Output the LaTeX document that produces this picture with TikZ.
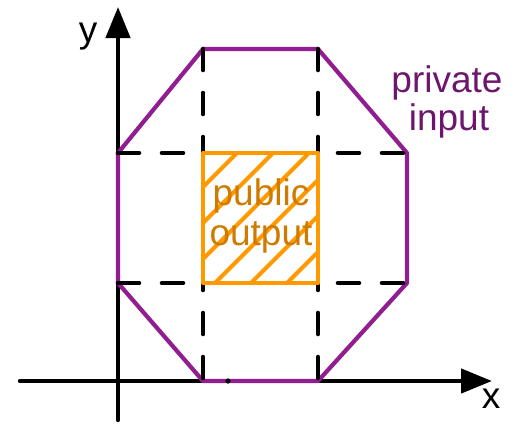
\documentclass[tikz,border=0pt]{standalone}
\usepackage{fontspec}
\setmainfont{Liberation Sans}
\usetikzlibrary{arrows.meta}
\definecolor{octpurple}{HTML}{911E91}
\definecolor{txtpurple}{HTML}{6C176B}
\definecolor{sqorange}{HTML}{FF9900}
\definecolor{txtorange}{HTML}{CF7B00}
\tikzset{
  axisline/.style={line width=4.4pt, line cap=round, -{Triangle[length=31pt,width=24pt]}},
  octline/.style={draw=octpurple, line width=4.2pt, line join=round},
  guideline/.style={line width=4.6pt, line cap=round, dash pattern=on 21pt off 23pt},
  hatchline/.style={draw=sqorange, line width=4.2pt},
  sqline/.style={draw=sqorange, line width=4.4pt, line join=round},
  lbl/.style={inner sep=0pt, anchor=base, font=\fontsize{37}{40}\selectfont},
}
\begin{document}
\begin{tikzpicture}[x=1pt,y=-1pt]
\useasboundingbox (0,0) rectangle (524,423);
% octagon vertices
\coordinate (o1) at (203,49);
\coordinate (o2) at (318,49);
\coordinate (o3) at (407,153);
\coordinate (o4) at (407,283);
\coordinate (o5) at (318,381);
\coordinate (o6) at (203,381);
\coordinate (o7) at (118,283);
\coordinate (o8) at (118,153);
% axes
\coordinate (xs) at (20,381);
\coordinate (xe) at (492,381);
\coordinate (ys) at (118,420);
\coordinate (ye) at (118,7);
\draw[axisline] (xs) -- (xe);
\draw[axisline] (ys) -- (ye);
% octagon
\draw[octline] (o1) -- (o2) -- (o3) -- (o4) -- (o5) -- (o6) -- (o7) -- (o8) -- cycle;
\fill (228,381) circle (2.6pt);
% dashed guides
\draw[guideline] (o1) -- (o6);
\draw[guideline] (o2) -- (o5);
\draw[guideline] (o8) -- (o3);
\draw[guideline] (o7) -- (o4);
% square
\coordinate (s1) at (203,153);
\coordinate (s2) at (318,283);
\fill[white] (s1) rectangle (s2);
\begin{scope}
  \clip (s1) rectangle (s2);
  \foreach \c in {390,426,462,498,534,570} {
    \draw[hatchline] (\c-300,300) -- (\c-130,130);
  }
\end{scope}
\node[lbl, text=txtorange] (pub) at (261,205) {public};
\node[lbl, text=txtorange] (out) at (261,245) {output};
\draw[sqline] (s1) rectangle (s2);
% labels
\node[lbl, text=txtpurple] (priv) at (447,92) {private};
\node[lbl, text=txtpurple] (inp) at (449,130) {input};
\node[lbl] (ylab) at (88,42) {y};
\node[lbl] (xlab) at (491,408) {x};
\end{tikzpicture}
\end{document}
